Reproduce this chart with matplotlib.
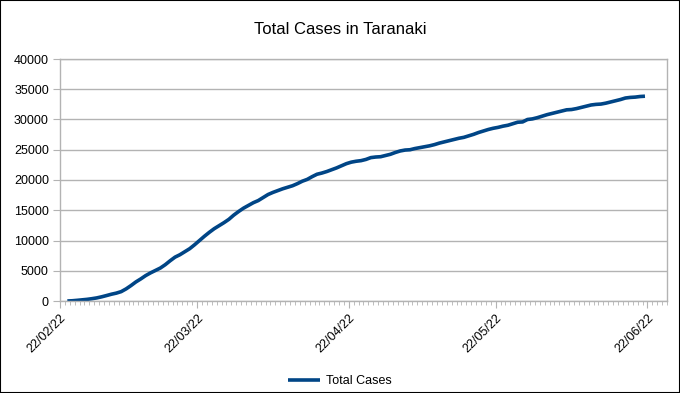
import numpy as np
import matplotlib
matplotlib.use('Agg')
import matplotlib.pyplot as plt
import matplotlib.dates as mdates
from matplotlib.patches import Rectangle

plt.rcParams['font.family'] = ['Liberation Sans', 'DejaVu Sans']

# daily cumulative cases, 23/02/22 .. 21/06/22
primeiro_dia = '2022-02-23'
ultimo_dia = '2022-06-22'
casos = [
    0, 40, 110, 190, 270, 380, 510, 690, 900, 1120,
    1300, 1550, 2000, 2550, 3150, 3650, 4200, 4650, 5050, 5450,
    6000, 6650, 7250, 7650, 8150, 8650, 9300, 10000, 10700, 11350,
    11950, 12450, 12950, 13500, 14200, 14800, 15350, 15800, 16250, 16600,
    17100, 17600, 17950, 18250, 18550, 18800, 19050, 19400, 19800, 20100,
    20550, 20950, 21150, 21400, 21700, 22000, 22350, 22700, 22950, 23100,
    23200, 23400, 23700, 23800, 23850, 24050, 24250, 24550, 24800, 24950,
    25000, 25200, 25350, 25500, 25650, 25850, 26100, 26300, 26500, 26700,
    26900, 27050, 27300, 27550, 27850, 28100, 28350, 28550, 28700, 28900,
    29050, 29300, 29550, 29600, 30000, 30100, 30300, 30550, 30800, 31000,
    31200, 31400, 31600, 31650, 31800, 32000, 32200, 32400, 32500, 32550,
    32700, 32900, 33100, 33300, 33550, 33650, 33700, 33800, 33850,
]
titulo = 'Total Cases in Taranaki'
legenda = 'Total Cases'
y_ticks = [0, 5000, 10000, 15000, 20000, 25000, 30000, 35000, 40000]

datas = np.arange(primeiro_dia, ultimo_dia, dtype='datetime64[D]')
# points sit in the middle of each day
x = datas.astype('datetime64[h]') + np.timedelta64(12, 'h')

cinza = '#b3b3b3'
azul = '#004586'

fig = plt.figure(figsize=(6.8, 3.93), dpi=100)
ax = fig.add_axes([60/680, 1 - 301/393, 607/680, 242/393])

ax.plot(x, casos, color=azul, linewidth=2.6, label=legenda, solid_capstyle='butt')

ax.set_xlim(np.datetime64('2022-02-22'), np.datetime64('2022-06-26'))
ax.set_ylim(0, 40000)
ax.set_yticks(y_ticks)
ax.yaxis.grid(True, color=cinza, linewidth=1)
ax.set_axisbelow(True)

ax.xaxis.set_major_locator(mdates.DayLocator(bymonthday=22))
ax.xaxis.set_major_formatter(mdates.DateFormatter('%d/%m/%y'))
ax.xaxis.set_minor_locator(mdates.DayLocator())

for s in ax.spines.values():
    s.set_color(cinza)
    s.set_linewidth(1)

ax.tick_params(axis='y', which='major', length=5, color=cinza, labelsize=9, pad=3)
ax.tick_params(axis='x', which='major', length=5, color=cinza, labelsize=9, pad=3)
ax.tick_params(axis='x', which='minor', length=3, color=cinza)
for lbl in ax.get_xticklabels():
    lbl.set_rotation(45)
    lbl.set_ha('right')
    lbl.set_va('top')
    lbl.set_rotation_mode('anchor')

fig.text(0.5, 1 - 30/393, titulo, ha='center', va='center', fontsize=12)

fig.legend(loc='center', bbox_to_anchor=(340/680, 1 - 381/393), frameon=False,
           fontsize=9, handlelength=2.6, handletextpad=0.5)

fig.patches.append(Rectangle((0, 0), 1, 1, transform=fig.transFigure,
                             fill=False, edgecolor='#000000', linewidth=1.5))

fig.savefig('out.png', dpi=100)
